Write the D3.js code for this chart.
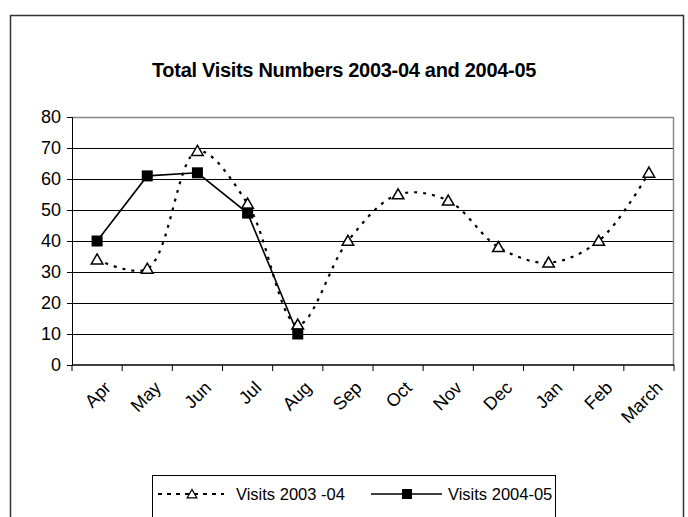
<!DOCTYPE html>
<html lang="en">
    <head>
        <meta charset="utf-8">
        <title>Total Visits Numbers</title>
        <script type="text/javascript" src="https://cdn.jsdelivr.net/npm/d3@7"></script>
        <style type="text/css">
            body {
                margin: 0;
                background: #fff;
            }
            text {
                font-family: Arial, "Liberation Sans", sans-serif;
                fill: #000;
            }
            .grid line {
                stroke: #000;
                stroke-width: 1px;
            }
            .grid .domain {
                display: none;
            }
        </style>
    </head>
    <body>
        <script type="text/javascript">

            //Data
            var months = ["Apr", "May", "Jun", "Jul", "Aug", "Sep", "Oct", "Nov", "Dec", "Jan", "Feb", "March"];
            var visits0304 = [34, 31, 69, 52, 13, 40, 55, 53, 38, 33, 40, 62];
            var visits0405 = [40, 61, 62, 49, 10];
            var yTicks = [0, 10, 20, 30, 40, 50, 60, 70, 80];
            var seriesNames = ["Visits 2003 -04", "Visits 2004-05"];

            //Width and height
            var w = 688;
            var h = 517;
            var plot = {left: 72, right: 674, top: 117, bottom: 365};

            var svg = d3.select("body")
                        .append("svg")
                        .attr("width", w)
                        .attr("height", h);

            //Outer chart border
            svg.append("rect")
               .attr("x", 10.5)
               .attr("y", 15.5)
               .attr("width", 673)
               .attr("height", 530)
               .style("fill", "none")
               .style("stroke", "#333")
               .style("stroke-width", 1.5);

            //Title
            svg.append("text")
               .attr("x", 344)
               .attr("y", 77)
               .attr("text-anchor", "middle")
               .style("font-size", "20px")
               .style("font-weight", "bold")
               .style("letter-spacing", "-0.3px")
               .text("Total Visits Numbers 2003-04 and 2004-05");

            //Scales
            var x = d3.scaleBand()
                      .domain(months)
                      .range([plot.left, plot.right]);

            var y = d3.scaleLinear()
                      .domain([0, 80])
                      .range([plot.bottom, plot.top]);

            //Gridlines
            svg.append("g")
               .attr("class", "grid")
               .attr("transform", "translate(" + plot.left + ",0)")
               .call(d3.axisLeft(y).tickValues(yTicks.slice(1, -1)).tickSize(-(plot.right - plot.left)).tickFormat(""));

            //Plot area top and right edges (grey)
            svg.append("path")
               .attr("d", "M" + plot.left + "," + (plot.top + 0.5) + "H" + (plot.right - 0.5) + "V" + plot.bottom)
               .style("fill", "none")
               .style("stroke", "#888")
               .style("stroke-width", 1.5);

            //Y axis
            var yAxis = svg.append("g")
               .attr("transform", "translate(" + plot.left + ",0)")
               .call(d3.axisLeft(y).tickValues(yTicks).tickSize(5).tickPadding(6));
            yAxis.selectAll("text").style("font-size", "18px");
            yAxis.selectAll("line, path").style("stroke", "#000");

            //X axis, ticks between categories
            var xAxis = svg.append("g")
               .attr("transform", "translate(0," + plot.bottom + ")");
            xAxis.append("line")
                 .attr("x1", plot.left)
                 .attr("x2", plot.right)
                 .style("stroke", "#000")
                 .style("stroke-width", 1.5);
            xAxis.selectAll(".tick")
                 .data(months.concat(["end"]))
                 .enter()
                 .append("line")
                 .attr("x1", function(d, i) { return plot.left + i * x.step(); })
                 .attr("x2", function(d, i) { return plot.left + i * x.step(); })
                 .attr("y1", 0)
                 .attr("y2", 6)
                 .style("stroke", "#000");
            xAxis.selectAll(".lbl")
                 .data(months)
                 .enter()
                 .append("text")
                 .attr("transform", function(d) {
                    return "translate(" + (x(d) + x.bandwidth() / 2 + 6) + ",15) rotate(-45)";
                 })
                 .attr("text-anchor", "end")
                 .attr("dy", "0.7em")
                 .style("font-size", "18px")
                 .text(function(d) { return d; });

            function cx(i) { return x(months[i]) + x.bandwidth() / 2; }

            //2003-04 line, smoothed and dotted
            var line1 = d3.line()
                          .x(function(d, i) { return cx(i); })
                          .y(function(d) { return y(d); })
                          .curve(d3.curveCatmullRom);

            svg.append("path")
               .datum(visits0304)
               .attr("d", line1)
               .style("fill", "none")
               .style("stroke", "#000")
               .style("stroke-width", 2.2)
               .style("stroke-dasharray", "3,6");

            //2004-05 line, straight and solid
            var line2 = d3.line()
                          .x(function(d, i) { return cx(i); })
                          .y(function(d) { return y(d); });

            svg.append("path")
               .datum(visits0405)
               .attr("d", line2)
               .style("fill", "none")
               .style("stroke", "#000")
               .style("stroke-width", 1.6);

            //Triangle markers
            var tri = d3.symbol().type(d3.symbolTriangle).size(58);
            svg.selectAll(".tri")
               .data(visits0304)
               .enter()
               .append("path")
               .attr("d", tri)
               .attr("transform", function(d, i) { return "translate(" + cx(i) + "," + (y(d) + 1) + ")"; })
               .style("fill", "#fff")
               .style("stroke", "#000")
               .style("stroke-width", 1.5);

            //Square markers
            svg.selectAll(".sq")
               .data(visits0405)
               .enter()
               .append("rect")
               .attr("x", function(d, i) { return cx(i) - 5.5; })
               .attr("y", function(d) { return y(d) - 5.5; })
               .attr("width", 11)
               .attr("height", 11)
               .style("fill", "#000");

            //Legend
            var legend = svg.append("g");
            legend.append("rect")
                  .attr("x", 152.5)
                  .attr("y", 475.5)
                  .attr("width", 403)
                  .attr("height", 60)
                  .style("fill", "#fff")
                  .style("stroke", "#000");

            var ly = 494;
            legend.append("line")
                  .attr("x1", 158).attr("x2", 224)
                  .attr("y1", ly).attr("y2", ly)
                  .style("stroke", "#000")
                  .style("stroke-width", 2.2)
                  .style("stroke-dasharray", "4,5");
            legend.append("path")
                  .attr("d", d3.symbol().type(d3.symbolTriangle).size(40))
                  .attr("transform", "translate(192," + (ly + 1) + ")")
                  .style("fill", "#fff")
                  .style("stroke", "#000")
                  .style("stroke-width", 1.3);
            legend.append("text")
                  .attr("x", 236)
                  .attr("y", ly + 6)
                  .style("font-size", "16.5px")
                  .text(seriesNames[0]);

            legend.append("line")
                  .attr("x1", 371).attr("x2", 442)
                  .attr("y1", ly).attr("y2", ly)
                  .style("stroke", "#000")
                  .style("stroke-width", 1.6);
            legend.append("rect")
                  .attr("x", 402).attr("y", ly - 5)
                  .attr("width", 10).attr("height", 10)
                  .style("fill", "#000");
            legend.append("text")
                  .attr("x", 448)
                  .attr("y", ly + 6)
                  .style("font-size", "16.5px")
                  .text(seriesNames[1]);

        </script>
    </body>
</html>
